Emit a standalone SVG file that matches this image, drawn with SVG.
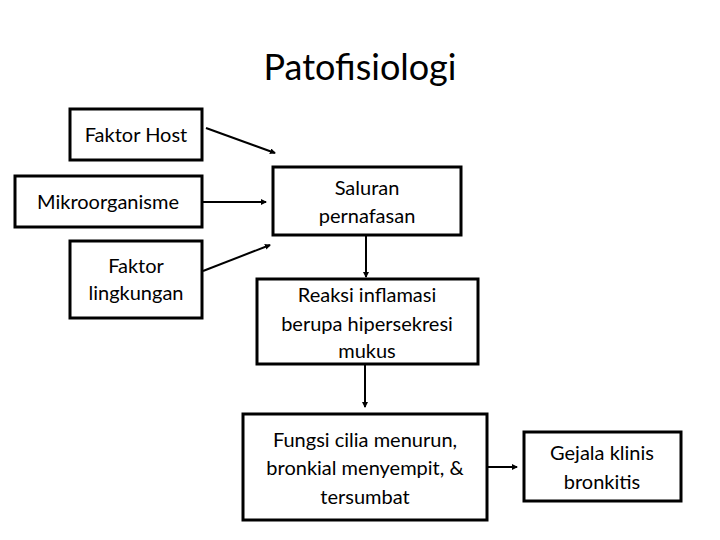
<svg xmlns="http://www.w3.org/2000/svg" width="720" height="540" viewBox="0 0 720 540">
<defs>
<style>
.b{fill:#fff;stroke:#000;stroke-width:3}
.t{font-family:Lato,"Open Sans",sans-serif;font-size:20px;fill:#000;text-anchor:middle}
.c{stroke:#000;stroke-width:2;fill:none;marker-end:url(#a)}
</style>
<marker id="a" viewBox="0 0 6 6" refX="5" refY="3" markerWidth="3" markerHeight="3" orient="auto"><path d="M0,0L6,3L0,6z" fill="#000"/></marker>
</defs>
<rect width="720" height="540" fill="#fff"/>
<text x="360" y="80" style="font-family:Lato,sans-serif;font-size:36px;text-anchor:middle">Patofisiologi</text>
<g id="host"><rect class="b" x="70" y="109" width="132" height="51"/><text class="t" x="136" y="142">Faktor Host</text></g>
<g id="mikro"><rect class="b" x="15" y="176" width="187" height="51"/><text class="t" x="108" y="209">Mikroorganisme</text></g>
<g id="lingkungan"><rect class="b" x="70" y="241" width="132" height="77"/><text class="t" x="136" y="273">Faktor</text><text class="t" x="136" y="300">lingkungan</text></g>
<g id="saluran"><rect class="b" x="273" y="167" width="188" height="68"/><text class="t" x="367" y="195">Saluran</text><text class="t" x="367" y="223">pernafasan</text></g>
<g id="reaksi"><rect class="b" x="257" y="279" width="221" height="85"/><text class="t" x="367" y="302">Reaksi inflamasi</text><text class="t" x="367" y="331">berupa hipersekresi</text><text class="t" x="367" y="358">mukus</text></g>
<g id="fungsi"><rect class="b" x="243" y="414" width="244" height="106"/><text class="t" x="365" y="447">Fungsi cilia menurun,</text><text class="t" x="365" y="475">bronkial menyempit, &amp;</text><text class="t" x="365" y="504">tersumbat</text></g>
<g id="gejala"><rect class="b" x="524" y="432" width="157" height="69"/><text class="t" x="602" y="460">Gejala klinis</text><text class="t" x="602" y="489">bronkitis</text></g>
<g id="connectors">
<line class="c" x1="206" y1="128" x2="275" y2="153"/>
<line class="c" x1="203" y1="202" x2="266" y2="202"/>
<line class="c" x1="203" y1="271" x2="270" y2="245"/>
<line class="c" x1="366" y1="236" x2="366" y2="277"/>
<line class="c" x1="365" y1="365" x2="365" y2="407"/>
<line class="c" x1="488" y1="467" x2="517" y2="467"/>
</g>
</svg>
